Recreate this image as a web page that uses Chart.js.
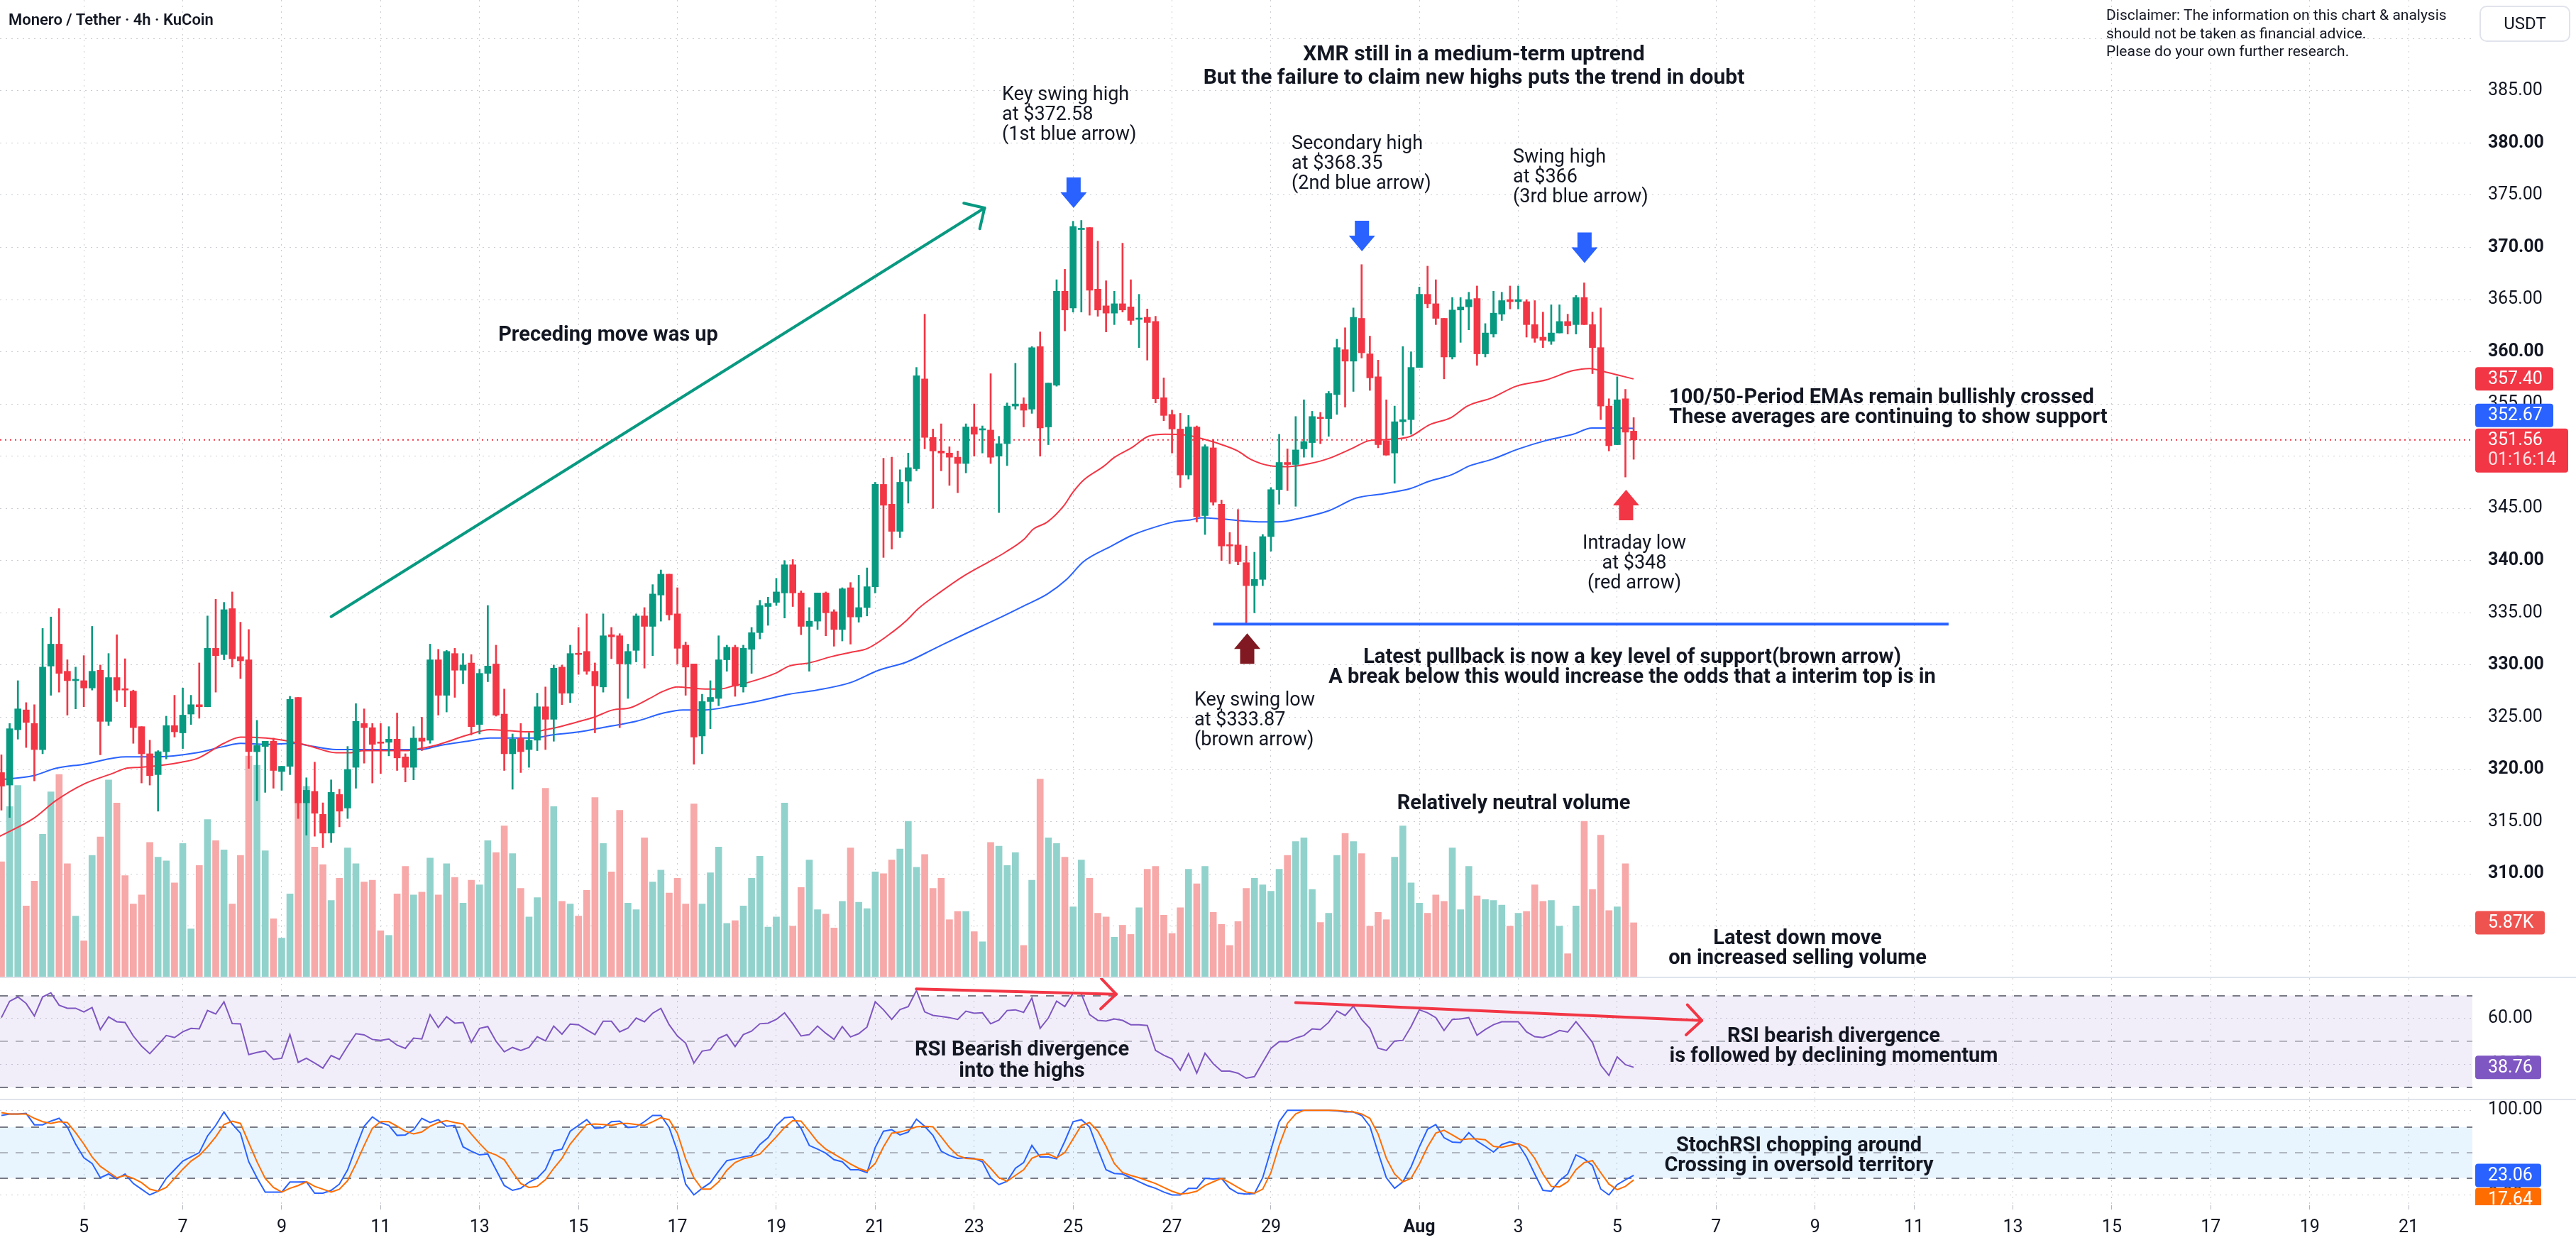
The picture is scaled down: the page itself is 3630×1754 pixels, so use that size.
<!DOCTYPE html>
<html>
<head>
<meta charset="utf-8">
<title>Monero / Tether 4h</title>
<script src="https://cdn.jsdelivr.net/npm/chart.js@4.4.1/dist/chart.umd.min.js"></script>
<style>
  html, body { margin: 0; padding: 0; background: #ffffff; }
  #page { position: relative; width: 3630px; height: 1754px; overflow: hidden; font-family: Roboto, "Noto Sans", sans-serif; color: #131722; }
  canvas { position: absolute; left: 0; }
  .sep { position: absolute; left: 0; width: 3630px; height: 2px; background: #e0e3eb; }
  .t { position: absolute; white-space: nowrap; font-size: 27px; line-height: 28px; }
  .b { font-weight: 700; font-size: 29px; }
  .mid { text-align: center; transform: translate(-50%, -50%); }
  .lft { transform: translateY(-50%); }
  #usdt { position: absolute; left: 3494px; top: 8px; width: 124px; height: 47px; border: 2px solid #e0e3eb; border-radius: 10px; font-size: 24px; line-height: 47px; text-align: center; }
</style>
</head>
<body>
<div id="page">
  <canvas id="priceChart" width="3630" height="1376" style="top:0"></canvas>
  <div class="sep" style="top:1376px"></div>
  <canvas id="rsiChart" width="3630" height="170" style="top:1378px"></canvas>
  <div class="sep" style="top:1548px"></div>
  <canvas id="stochChart" width="3630" height="204" style="top:1550px"></canvas>

  <div class="t lft" style="left:12px;top:28px;font-size:22px;font-weight:600">Monero / Tether · 4h · KuCoin</div>
  <div class="t lft" style="left:2968px;top:47px;font-size:21px;line-height:25.5px">Disclaimer: The information on this chart &amp; analysis<br>should not be taken as financial advice.<br>Please do your own further research.</div>
  <div id="usdt">USDT</div>

  <div class="t b mid" style="left:2077px;top:91px;font-size:30px;line-height:33px">XMR still in a medium-term uptrend<br>But the failure to claim new highs puts the trend in doubt</div>
  <div class="t lft" style="left:1412px;top:160px">Key swing high<br>at $372.58<br>(1st blue arrow)</div>
  <div class="t lft" style="left:1820px;top:229px">Secondary high<br>at $368.35<br>(2nd blue arrow)</div>
  <div class="t lft" style="left:2132px;top:248px">Swing high<br>at $366<br>(3rd blue arrow)</div>
  <div class="t b mid" style="left:857px;top:470px">Preceding move was up</div>
  <div class="t b lft" style="left:2352px;top:572px">100/50-Period EMAs remain bullishly crossed<br>These averages are continuing to show support</div>
  <div class="t mid" style="left:2303px;top:792px">Intraday low<br>at $348<br>(red arrow)</div>
  <div class="t b mid" style="left:2300px;top:938px">Latest pullback is now a key level of support(brown arrow)<br>A break below this would increase the odds that a interim top is in</div>
  <div class="t lft" style="left:1683px;top:1013px">Key swing low<br>at $333.87<br>(brown arrow)</div>
  <div class="t b mid" style="left:2133px;top:1130px">Relatively neutral volume</div>
  <div class="t b mid" style="left:2533px;top:1334px">Latest down move<br>on increased selling volume</div>
  <div class="t b mid" style="left:1440px;top:1492px;line-height:30px">RSI Bearish divergence<br>into the highs</div>
  <div class="t b mid" style="left:2584px;top:1472px">RSI bearish divergence<br>is followed by declining momentum</div>
  <div class="t b mid" style="left:2535px;top:1626px">StochRSI chopping around<br>Crossing in oversold territory</div>
</div>

<script>
// 4h candles, the first one opens Jul 3 08:00. x axis unit = day of July (Aug 1 = 32)
const firstBar = 3 + 8 / 24;

const opens = [
  319.7, 318.5, 323.8, 325.7, 324.4, 321.9, 329.9, 332.0, 329.4, 328.5, 328.5, 327.8,
  329.5, 324.6, 328.8, 327.7, 327.5, 324.1, 321.5, 319.5, 321.7, 324.2, 323.5, 325.3,
  326.2, 326.0, 331.6, 331.0, 335.4, 330.8, 330.5, 321.7, 322.2, 322.7, 319.8, 320.3,
  326.9, 316.8, 317.9, 315.7, 313.9, 317.6, 316.3, 320.2, 324.4, 324.0, 322.6, 322.6,
  322.9, 321.2, 320.2, 323.0, 322.8, 330.5, 327.1, 331.1, 329.5, 330.2, 324.3, 329.2,
  330.1, 325.3, 321.5, 323.0, 321.9, 322.8, 326.0, 324.8, 329.8, 327.3, 331.1, 331.3,
  329.4, 327.9, 332.9, 332.8, 330.1, 331.4, 334.7, 333.7, 336.7, 338.7, 334.9, 331.9,
  330.1, 323.2, 326.5, 326.8, 330.5, 331.7, 327.9, 331.5, 333.1, 335.6, 336.0, 336.9,
  339.6, 336.9, 333.7, 334.2, 336.9, 335.1, 333.4, 337.4, 334.6, 335.5, 337.5, 347.3,
  345.4, 342.8, 347.6, 348.8, 357.4, 351.8, 350.5, 350.3, 349.9, 349.3, 352.8, 352.5,
  352.5, 350.0, 351.2, 354.8, 355.0, 354.5, 360.5, 352.8, 356.8, 365.8, 364.2, 371.7,
  371.9, 366.0, 364.4, 363.7, 364.6, 364.3, 363.1, 363.3, 362.9, 355.6, 354.0, 352.6,
  348.2, 352.8, 344.3, 350.8, 345.4, 341.5, 341.5, 339.8, 337.6, 338.2, 342.3, 346.8,
  349.4, 349.2, 350.7, 351.3, 353.7, 353.6, 355.9, 360.2, 359.1, 363.2, 359.8, 357.6,
  351.5, 350.3, 353.3, 353.5, 358.5, 365.5, 364.6, 363.2, 359.5, 364.0, 364.3, 365.1,
  359.8, 361.7, 363.6, 365.0, 364.8, 364.8, 362.6, 361.4, 361.0, 361.8, 362.9, 362.6,
  365.2, 362.6, 360.4, 354.8, 351.1, 355.5, 352.4
];
const highs = [
  321.4, 324.4, 328.5, 326.4, 326.2, 333.5, 334.6, 335.4, 330.5, 329.8, 330.9, 333.7,
  330.0, 331.1, 332.9, 330.6, 327.6, 324.1, 322.8, 321.8, 325.1, 327.1, 327.8, 327.1,
  330.2, 334.7, 336.3, 336.0, 337.0, 334.1, 333.4, 324.7, 322.7, 323.0, 320.3, 327.0,
  326.9, 319.2, 320.7, 316.8, 319.0, 318.1, 322.2, 326.3, 325.8, 324.4, 324.4, 324.1,
  325.4, 321.5, 324.1, 325.0, 332.0, 331.5, 331.4, 331.6, 331.1, 331.0, 329.6, 335.7,
  331.9, 327.7, 323.4, 324.4, 323.5, 327.3, 327.9, 330.0, 330.0, 331.9, 333.6, 334.9,
  330.2, 334.9, 333.6, 333.0, 332.0, 334.9, 335.5, 337.7, 339.1, 338.7, 337.4, 332.2,
  330.1, 327.2, 328.5, 332.8, 331.9, 331.9, 331.9, 333.6, 336.2, 336.5, 338.3, 340.0,
  340.1, 337.1, 335.5, 336.9, 337.0, 335.3, 337.4, 337.9, 338.6, 339.3, 347.5, 349.8,
  349.9, 348.7, 350.3, 358.5, 363.6, 352.6, 353.1, 350.9, 350.5, 353.1, 355.0, 352.9,
  357.9, 351.9, 355.1, 358.9, 355.6, 360.5, 361.9, 357.0, 366.9, 367.9, 372.5, 372.58,
  371.9, 370.6, 366.8, 365.8, 370.4, 366.9, 365.5, 364.1, 363.4, 357.5, 354.4, 354.1,
  353.9, 352.9, 351.1, 351.6, 345.8, 342.7, 344.9, 341.4, 340.8, 342.5, 347.0, 352.1,
  350.7, 353.8, 355.4, 354.3, 354.2, 356.2, 361.2, 362.3, 364.2, 368.35, 361.5, 359.2,
  355.4, 354.8, 360.5, 360.0, 366.2, 368.2, 366.9, 363.2, 365.2, 365.2, 365.7, 366.3,
  362.7, 365.8, 365.7, 366.3, 366.3, 365.0, 364.9, 363.8, 364.5, 364.5, 363.6, 365.4,
  366.6, 363.8, 364.2, 355.5, 357.6, 356.4, 353.7
];
const lows = [
  316.1, 315.4, 322.9, 322.1, 318.9, 321.5, 327.1, 327.4, 325.2, 325.8, 326.0, 327.6,
  321.4, 324.2, 326.5, 326.0, 322.5, 318.7, 318.5, 316.0, 321.0, 323.1, 322.0, 324.3,
  324.9, 326.0, 327.4, 330.5, 329.8, 328.7, 320.1, 317.0, 317.8, 318.2, 318.0, 319.5,
  315.3, 313.7, 313.6, 312.5, 313.0, 314.5, 315.3, 318.2, 320.6, 318.7, 319.6, 321.3,
  319.9, 318.8, 319.0, 321.8, 322.5, 325.2, 325.5, 326.9, 328.2, 323.3, 323.4, 328.4,
  325.1, 319.9, 318.1, 319.7, 320.2, 321.8, 321.9, 322.7, 326.2, 326.4, 329.1, 329.1,
  323.5, 327.4, 330.6, 324.0, 326.8, 330.3, 329.7, 330.9, 334.2, 334.3, 330.1, 327.1,
  320.5, 321.5, 323.9, 326.1, 329.4, 327.0, 327.4, 329.2, 332.5, 333.8, 335.7, 334.5,
  335.6, 332.9, 329.4, 333.4, 332.8, 331.8, 332.3, 332.0, 334.1, 334.7, 336.9, 340.3,
  341.1, 342.2, 345.5, 348.6, 350.7, 345.0, 348.6, 347.2, 346.5, 348.4, 350.0, 350.3,
  349.3, 344.6, 349.1, 354.5, 352.8, 354.1, 350.0, 351.1, 356.7, 362.0, 363.8, 363.8,
  363.5, 363.4, 361.9, 362.6, 363.8, 362.6, 360.4, 359.2, 355.1, 353.4, 350.3, 347.0,
  347.8, 343.7, 342.5, 345.3, 340.0, 339.7, 339.6, 333.87, 335.0, 337.6, 340.9, 345.4,
  346.7, 345.2, 349.9, 349.9, 351.2, 351.9, 354.0, 354.7, 356.2, 359.4, 356.3, 350.8,
  350.1, 347.4, 352.0, 352.1, 358.5, 364.2, 362.6, 357.4, 359.3, 360.9, 362.1, 358.7,
  359.5, 361.4, 363.0, 364.1, 364.1, 361.4, 360.9, 360.4, 360.7, 361.8, 361.7, 361.7,
  362.6, 357.9, 353.5, 350.5, 351.1, 348.0, 349.7
];
const closes = [
  318.4, 323.9, 325.8, 324.5, 321.9, 329.8, 332.0, 329.2, 328.5, 328.6, 327.8, 329.4,
  324.6, 328.8, 327.6, 327.6, 324.0, 321.5, 319.4, 321.7, 324.2, 323.6, 325.2, 326.2,
  326.0, 331.6, 330.9, 335.3, 330.6, 330.4, 321.7, 322.3, 322.7, 319.9, 320.3, 326.7,
  316.8, 318.0, 315.8, 313.9, 317.8, 316.0, 320.0, 324.6, 324.0, 322.4, 322.5, 322.9,
  321.1, 320.2, 323.0, 322.7, 330.5, 327.1, 331.3, 329.5, 330.0, 324.1, 329.2, 329.9,
  325.2, 321.5, 322.9, 321.7, 322.8, 326.0, 324.8, 329.7, 327.3, 331.1, 331.0, 329.4,
  328.0, 332.8, 332.7, 330.1, 331.3, 334.7, 333.7, 336.8, 338.7, 334.8, 331.6, 329.8,
  323.1, 326.5, 326.9, 330.5, 331.7, 328.0, 331.6, 333.1, 335.7, 335.9, 337.0, 339.6,
  336.9, 333.7, 334.2, 336.9, 335.0, 333.4, 337.3, 334.6, 335.5, 337.5, 347.3, 345.3,
  342.8, 347.5, 348.9, 357.7, 351.8, 350.5, 350.3, 349.9, 349.3, 352.8, 352.1, 352.6,
  349.9, 351.2, 354.8, 355.0, 354.4, 360.4, 352.7, 357.0, 365.8, 364.0, 372.0, 371.8,
  365.9, 364.0, 363.7, 364.6, 364.0, 363.0, 363.2, 362.8, 355.5, 353.9, 352.6, 348.2,
  352.8, 344.2, 350.9, 345.6, 341.4, 341.4, 339.9, 337.6, 338.2, 342.3, 346.8, 349.4,
  349.2, 350.6, 351.4, 353.8, 353.6, 356.0, 360.4, 359.1, 363.3, 359.9, 357.5, 351.1,
  350.1, 353.3, 353.5, 358.5, 365.5, 364.6, 363.2, 359.5, 364.0, 364.3, 365.0, 359.8,
  361.8, 363.7, 364.9, 364.8, 365.0, 362.6, 361.3, 361.1, 361.8, 362.9, 362.5, 365.2,
  362.6, 360.4, 354.8, 351.0, 355.4, 352.3, 351.56
];
// volume in thousands
const volumes = [
  12.5, 18.5, 20.8, 7.7, 10.4, 15.5, 20.1, 22.0, 12.3, 6.6, 3.9, 13.2,
  15.2, 21.4, 18.9, 11.0, 7.9, 8.9, 14.6, 13.0, 12.6, 10.2, 14.5, 5.2,
  12.1, 17.1, 14.8, 13.8, 7.9, 13.2, 24.0, 23.0, 13.7, 6.3, 4.2, 9.0,
  22.5, 20.7, 14.1, 12.2, 8.3, 10.7, 14.0, 12.3, 10.3, 10.5, 5.0, 4.5,
  9.0, 12.0, 8.9, 9.2, 12.9, 8.9, 12.3, 10.8, 8.0, 10.5, 10.0, 14.8,
  13.5, 16.4, 13.4, 9.6, 6.5, 8.6, 20.5, 18.5, 8.2, 7.9, 6.6, 9.4,
  19.5, 14.5, 11.4, 18.1, 8.0, 7.3, 15.1, 10.3, 11.6, 9.1, 10.7, 7.9,
  18.8, 7.9, 11.3, 14.1, 5.8, 6.1, 7.7, 10.7, 13.1, 5.4, 6.5, 18.9,
  5.5, 9.7, 12.7, 7.3, 6.8, 5.3, 8.2, 14.0, 8.1, 7.4, 11.4, 11.2,
  12.7, 13.9, 16.9, 11.9, 13.3, 9.6, 10.7, 6.2, 7.1, 7.1, 4.9, 3.8,
  14.6, 14.2, 12.1, 13.5, 3.4, 10.5, 21.5, 15.1, 14.5, 13.0, 7.6, 12.7,
  10.7, 6.9, 6.5, 4.3, 5.6, 4.6, 7.5, 11.7, 12.0, 6.7, 4.7, 7.5,
  11.7, 10.1, 12.0, 7.0, 5.7, 3.4, 6.0, 9.6, 10.7, 10.0, 9.3, 11.7,
  13.2, 14.7, 15.1, 9.5, 5.9, 6.9, 13.2, 15.6, 14.7, 13.4, 5.5, 7.0,
  6.2, 13.0, 16.4, 10.2, 8.0, 6.9, 8.9, 8.2, 14.0, 7.3, 12.0, 8.8,
  8.4, 8.3, 7.8, 5.5, 6.9, 7.1, 10.0, 8.2, 8.3, 5.5, 2.5, 7.7,
  16.9, 9.5, 15.4, 7.2, 7.6, 12.3, 5.87
];
const rsi = [
  60.4, 67.5, 69.4, 66.6, 61.1, 69.4, 71.2, 65.8, 64.5, 64.5, 62.9, 64.8,
  55.2, 60.7, 58.6, 58.3, 52.4, 48.0, 44.7, 48.6, 52.6, 51.7, 54.2, 55.7,
  55.5, 63.5, 62.0, 67.3, 57.8, 57.7, 44.3, 45.2, 45.9, 42.2, 42.7, 53.0,
  40.9, 42.7, 40.6, 38.4, 43.9, 42.2, 48.0, 53.4, 52.9, 50.9, 50.5, 51.1,
  48.4, 47.0, 51.5, 51.1, 61.7, 56.1, 60.8, 58.0, 58.3, 49.6, 55.7, 56.5,
  50.1, 45.5, 47.4, 46.1, 47.4, 52.1, 50.3, 56.7, 53.2, 57.6, 57.3, 55.1,
  53.0, 58.8, 58.8, 54.2, 55.8, 60.2, 58.6, 62.3, 64.4, 57.3, 52.4, 49.3,
  40.6, 45.8, 46.4, 51.4, 53.0, 47.8, 53.0, 54.5, 57.7, 58.0, 59.6, 62.5,
  57.7, 52.4, 53.0, 56.7, 53.6, 50.9, 56.5, 52.0, 53.4, 56.3, 67.3, 63.8,
  59.6, 63.9, 65.2, 72.2, 62.9, 61.4, 60.9, 60.4, 59.6, 63.2, 62.3, 62.5,
  57.7, 59.3, 63.5, 63.8, 62.7, 68.9, 55.7, 60.2, 67.6, 65.2, 71.0, 70.7,
  61.7, 59.2, 58.9, 59.8, 59.2, 57.3, 57.3, 57.0, 46.1, 44.0, 42.4, 37.5,
  44.7, 36.2, 44.9, 40.3, 37.1, 37.1, 36.2, 34.0, 34.7, 40.9, 47.0, 49.9,
  49.9, 51.5, 52.6, 55.5, 55.2, 58.3, 63.3, 61.3, 65.4, 59.6, 55.7, 47.1,
  46.1, 50.2, 50.5, 56.5, 63.8, 62.5, 60.4, 54.8, 59.6, 59.8, 60.4, 52.7,
  55.2, 57.3, 58.6, 58.6, 58.6, 54.2, 52.1, 51.7, 53.0, 54.8, 54.1, 58.6,
  54.2, 49.6, 39.7, 35.2, 43.3, 39.9, 38.76
];
const stochK = [
  93.9, 95.6, 95.6, 96.3, 82.8, 82.8, 87.2, 90.5, 80.4, 60.1, 43.9, 37.2,
  20.3, 24.7, 18.9, 24.7, 13.5, 6.8, 0, 4.4, 19.6, 29.7, 39.9, 44.9,
  50.0, 69.6, 82.1, 98.0, 83.8, 73.0, 39.2, 20.3, 3.4, 3.4, 3.4, 15.2,
  15.2, 15.5, 2.0, 2.0, 5.4, 12.8, 29.7, 56.1, 81.1, 92.2, 85.5, 82.1,
  70.3, 70.9, 77.0, 90.5, 85.5, 88.9, 81.1, 82.1, 56.8, 51.7, 47.3, 48.3,
  29.7, 11.1, 5.4, 7.8, 15.0, 20.0, 30.0, 52.0, 54.1, 75.3, 82.1, 88.9,
  78.7, 79.4, 86.5, 87.2, 79.7, 80.4, 86.5, 93.9, 93.9, 79.7, 51.7, 12.8,
  0, 7.8, 14.5, 28.0, 40.5, 42.6, 44.9, 46.6, 59.5, 67.6, 82.1, 91.2,
  92.2, 78.7, 58.4, 54.1, 49.3, 41.6, 39.2, 29.7, 29.7, 26.4, 56.1, 75.3,
  77.0, 70.9, 74.3, 89.5, 81.1, 70.3, 51.7, 46.6, 43.2, 43.9, 43.2, 39.2,
  20.3, 12.2, 16.2, 31.4, 38.2, 58.4, 44.9, 44.9, 42.6, 63.5, 86.5, 88.9,
  80.4, 54.0, 29.7, 25.3, 24.7, 20.3, 15.5, 11.1, 7.8, 3.4, 0, 0,
  7.8, 7.8, 19.6, 18.9, 19.6, 7.8, 2.0, 1.0, 1.7, 20.3, 53.4, 86.5,
  100, 100, 100, 100, 100, 100, 99.3, 98.0, 98.0, 93.9, 81.1, 50.0,
  20.3, 7.8, 15.5, 33.1, 56.8, 77.7, 83.1, 67.6, 62.5, 61.8, 73.6, 63.5,
  57.4, 50.7, 59.5, 62.8, 60.1, 44.9, 24.7, 5.4, 4.4, 16.9, 24.7, 47.3,
  42.6, 34.8, 7.1, 0, 12.2, 17.9, 23.06
];
const stochD = [
  97.3, 95.6, 95.6, 95.6, 90.5, 86.5, 84.5, 86.5, 85.5, 73.6, 60.1, 44.9,
  33.8, 27.0, 20.3, 23.0, 19.6, 14.5, 6.8, 4.4, 8.8, 19.6, 30.4, 39.9,
  46.6, 56.8, 68.6, 83.1, 87.2, 84.5, 61.8, 39.2, 19.6, 8.8, 3.4, 7.8,
  11.1, 15.5, 10.1, 6.8, 3.4, 6.8, 16.9, 36.5, 58.4, 78.7, 86.5, 86.5,
  81.1, 75.3, 72.0, 74.3, 81.1, 85.5, 87.8, 85.5, 83.8, 72.0, 60.8, 50.7,
  47.3, 41.6, 27.0, 13.5, 8.8, 10.1, 17.9, 31.4, 43.2, 60.1, 72.0, 83.1,
  83.8, 83.1, 82.1, 84.5, 84.5, 83.1, 82.1, 86.5, 91.2, 88.9, 73.0, 42.6,
  20.3, 6.8, 6.8, 15.5, 29.1, 38.2, 42.6, 44.9, 48.3, 58.4, 68.6, 79.7,
  87.8, 87.2, 75.3, 62.8, 54.1, 48.3, 42.6, 36.5, 31.4, 28.0, 37.2, 56.8,
  73.0, 74.3, 77.0, 80.4, 81.1, 80.4, 68.6, 56.1, 46.6, 43.2, 42.6, 41.6,
  31.4, 20.3, 16.2, 23.0, 29.7, 43.2, 47.3, 48.3, 43.9, 50.0, 66.2, 82.1,
  85.5, 75.3, 57.6, 37.2, 26.4, 23.0, 20.3, 16.9, 13.5, 8.8, 4.4, 1.0,
  2.0, 4.4, 11.1, 15.5, 19.6, 14.5, 8.8, 3.4, 2.0, 6.8, 26.4, 58.4,
  84.5, 95.6, 100, 100, 100, 100, 99.7, 99.0, 98.0, 95.6, 90.5, 72.0,
  43.2, 24.7, 15.5, 19.6, 36.5, 56.8, 73.0, 76.4, 70.9, 65.2, 66.2, 66.2,
  65.2, 57.4, 56.1, 58.4, 60.8, 56.1, 43.2, 24.7, 10.1, 9.5, 15.5, 29.7,
  38.2, 40.5, 26.4, 12.8, 6.1, 10.1, 17.64
];
// EMA lines as [day, price]
const ema50Pts = [
  [3.30, 313.6], [3.98, 315.3], [4.43, 317.0], [5.00, 318.6], [5.57, 319.6], [5.85, 320.1], [6.13, 320.2], [6.59, 320.4],
  [6.98, 320.7], [7.32, 321.1], [7.83, 322.5], [8.17, 323.1], [8.68, 323.0], [9.02, 322.8], [9.53, 322.3], [10.10, 321.6],
  [10.38, 321.6], [10.67, 321.8], [11.52, 321.8], [11.80, 322.0], [12.18, 322.4], [12.76, 323.3], [13.21, 323.8], [13.61, 323.7],
  [14.06, 323.6], [14.34, 323.8], [14.63, 324.1], [15.02, 324.6], [15.31, 325.0], [15.70, 325.7], [16.04, 325.9], [16.44, 326.8],
  [16.72, 327.5], [17.00, 327.9], [17.28, 327.8], [17.56, 327.7], [17.85, 327.7], [18.13, 328.0], [18.41, 328.3], [18.98, 329.2],
  [19.26, 329.9], [19.66, 330.2], [20.11, 330.8], [20.49, 331.2], [20.85, 331.6], [21.36, 333.2], [21.64, 334.3], [21.87, 335.4],
  [22.32, 337.0], [22.78, 338.5], [23.34, 340.0], [23.63, 340.8], [24.02, 342.1], [24.19, 343.0], [24.48, 343.7], [24.82, 345.3],
  [24.99, 346.5], [25.21, 347.7], [25.61, 349.0], [25.84, 349.9], [26.18, 350.8], [26.52, 351.9], [26.86, 352.1], [27.31, 352.0],
  [27.59, 351.7], [27.88, 351.3], [28.33, 350.5], [28.59, 349.7], [28.97, 349.1], [29.36, 349.0], [29.79, 349.3], [30.18, 349.8],
  [30.62, 350.7], [31.00, 351.5], [31.33, 351.6], [31.82, 351.9], [32.20, 353.0], [32.64, 353.7], [32.97, 354.8], [33.47, 355.6],
  [33.96, 356.7], [34.56, 357.3], [35.11, 358.2], [35.44, 358.4], [35.82, 358.0], [36.33, 357.40]
];
const ema100Pts = [
  [3.30, 319.0], [3.98, 319.4], [4.43, 320.1], [5.00, 320.5], [5.85, 321.2], [6.42, 321.2], [7.28, 321.6], [7.83, 322.2],
  [8.17, 322.5], [8.68, 322.4], [9.25, 322.5], [9.53, 322.3], [10.10, 321.9], [10.67, 321.9], [11.52, 321.9], [11.80, 321.9],
  [12.20, 322.3], [12.76, 322.7], [13.21, 323.0], [14.06, 323.0], [14.46, 323.3], [15.02, 323.6], [15.59, 324.1], [16.16, 324.6],
  [16.72, 325.4], [17.11, 325.7], [17.56, 325.7], [18.13, 326.1], [18.69, 326.6], [19.26, 327.2], [19.82, 327.6], [20.49, 328.3],
  [21.07, 329.5], [21.64, 330.3], [22.21, 331.6], [22.78, 332.9], [23.46, 334.4], [24.02, 335.7], [24.48, 336.8], [24.87, 338.2],
  [25.21, 339.9], [25.78, 341.4], [26.18, 342.4], [26.52, 343.0], [27.03, 343.7], [27.37, 343.9], [27.59, 344.1], [27.99, 344.0],
  [28.45, 343.8], [28.81, 343.7], [29.14, 343.7], [29.63, 344.1], [30.18, 344.8], [30.73, 346.0], [31.27, 346.4], [31.82, 346.9],
  [32.20, 347.6], [32.64, 348.2], [33.03, 349.1], [33.47, 349.7], [34.01, 350.7], [34.56, 351.5], [35.11, 352.1], [35.49, 352.7],
  [35.93, 352.7], [36.33, 352.67]
];

const dayTicks = [5, 7, 9, 11, 13, 15, 17, 19, 21, 23, 25, 27, 29, 32, 34, 36, 38, 40, 42, 44, 46, 48, 50, 52];
const dayLabels = ['5', '7', '9', '11', '13', '15', '17', '19', '21', '23', '25', '27', '29', 'Aug', '3', '5', '7', '9', '11', '13', '15', '17', '19', '21'];
const priceTicks = [305, 310, 315, 320, 325, 330, 335, 340, 345, 350, 355, 360, 365, 370, 375, 380, 385, 390];
const rsiTicks = [40, 60];
const stochTicks = [0, 100];
const countdown = '01:16:14';

// drawing marks, in chart units (day, price / rsi)
const trendArrow = [[10.0, 334.63], [23.21, 373.77]];
const highArrows = [[25.01, 373.77], [30.84, 369.63], [35.34, 368.5]];
const lowArrow = [36.18, 346.78];
const swingLowArrow = [28.52, 333.03];
const supportLine = { from: 27.83, to: 42.70, price: 333.92 };
const rsiArrows = [[[21.83, 72.9], [25.87, 70.6]], [[29.5, 66.9], [37.71, 59.15]]];

const UP = '#089981', DOWN = '#f23645', BLUE = '#2962ff';
const xMin = 3.305, xMax = 53.29;
const last = closes.length - 1;
const barX = closes.map((c, i) => firstBar + i / 6);
const isUp = closes.map((c, i) => c >= opens[i]);

Chart.defaults.font.family = 'Roboto';
Chart.defaults.color = '#131722';

const common = {
  responsive: false, animation: false, devicePixelRatio: 1, events: [],
  layout: { padding: 0 },
  plugins: { legend: { display: false }, tooltip: { enabled: false } }
};

function xAxis(showLabels) {
  return {
    type: 'linear', min: xMin, max: xMax, offset: false,
    afterBuildTicks: s => { s.ticks = dayTicks.map(v => ({ value: v })); },
    grid: { offset: false, color: '#c9ccd2', drawTicks: showLabels, tickLength: 6, tickColor: '#b2b5be', tickBorderDash: [] },
    border: { display: false, dash: [2, 6] },
    ticks: {
      display: showLabels, autoSkip: false, maxRotation: 0, padding: 11, color: '#131722',
      font: c => ({ size: 25, weight: c.tick && c.tick.value === 32 ? 'bold' : 'normal' }),
      callback: v => dayLabels[dayTicks.indexOf(v)]
    },
    afterFit: s => {
      s.height = showLabels ? 56 : 0;
      s.paddingLeft = 0; s.paddingRight = 0;
    }
  };
}

function rightAxis(min, max, ticks, fmt, bold) {
  return {
    position: 'right', min, max,
    afterBuildTicks: s => { s.ticks = ticks.map(v => ({ value: v })); },
    grid: { color: '#c9ccd2', drawTicks: false },
    border: { display: false, dash: [2, 6] },
    ticks: {
      padding: 22, color: '#131722', callback: fmt,
      font: c => ({ size: 25, weight: bold && c.tick && bold(c.tick.value) ? 'bold' : 'normal' })
    },
    // fixed axis width, and no label overhang padding so the pane uses its full height
    afterFit: s => {
      s.width = 146;
      s.paddingTop = 0; s.paddingBottom = 0;
    }
  };
}

function seg(ctx, x1, y1, x2, y2) {
  ctx.beginPath(); ctx.moveTo(x1, y1); ctx.lineTo(x2, y2); ctx.stroke();
}

function arrowLine(ctx, x1, y1, x2, y2, color, width) {
  const a = Math.atan2(y2 - y1, x2 - x1), L = 30;
  ctx.save();
  ctx.strokeStyle = color; ctx.lineWidth = width; ctx.lineCap = 'round';
  seg(ctx, x1, y1, x2, y2);
  [a + Math.PI * 0.75, a - Math.PI * 0.75].forEach(b => seg(ctx, x2, y2, x2 + L * Math.cos(b), y2 + L * Math.sin(b)));
  ctx.restore();
}

// block arrow, dir 1 = pointing down, -1 = pointing up
function blockArrow(ctx, x, tip, dir, color) {
  const head = 22, len = 43, hw = 18.5, sw = 10;
  ctx.save();
  ctx.fillStyle = color;
  ctx.beginPath();
  ctx.moveTo(x, tip);
  ctx.lineTo(x + hw, tip - dir * head); ctx.lineTo(x + sw, tip - dir * head); ctx.lineTo(x + sw, tip - dir * len);
  ctx.lineTo(x - sw, tip - dir * len); ctx.lineTo(x - sw, tip - dir * head); ctx.lineTo(x - hw, tip - dir * head);
  ctx.closePath(); ctx.fill();
  ctx.restore();
}

// value tag on the price scale
function tag(chart, yc, w, color, text) {
  const ctx = chart.ctx, x = chart.chartArea.right + 4, h = 33;
  ctx.fillStyle = color;
  ctx.beginPath(); ctx.roundRect(x, yc - h / 2, w, h, 4); ctx.fill();
  ctx.fillStyle = '#ffffff';
  ctx.font = '25px Roboto'; ctx.textAlign = 'left'; ctx.textBaseline = 'middle';
  ctx.fillText(text, chart.chartArea.right + 22, yc + 1);
}

function dashedLevel(chart, value, color) {
  const { ctx, chartArea: a, scales: { y } } = chart;
  const py = Math.round(y.getPixelForValue(value));
  ctx.save();
  ctx.strokeStyle = color; ctx.lineWidth = 2; ctx.setLineDash([11, 11]);
  seg(ctx, a.left, py, a.right, py);
  ctx.restore();
}

function band(chart, lo, hi, fill) {
  const { ctx, chartArea: a, scales: { y } } = chart;
  const top = y.getPixelForValue(hi), bot = y.getPixelForValue(lo);
  ctx.save(); ctx.fillStyle = fill; ctx.fillRect(a.left, top, a.right - a.left, bot - top); ctx.restore();
  dashedLevel(chart, hi, '#787b86');
  dashedLevel(chart, (lo + hi) / 2, 'rgba(120,123,134,0.5)');
  dashedLevel(chart, lo, '#787b86');
}

const pricePlugin = {
  id: 'priceMarks',
  beforeDatasetsDraw(chart) {
    const { ctx, chartArea: a, scales: { y } } = chart;
    const py = y.getPixelForValue(closes[last]);
    ctx.save();
    ctx.strokeStyle = DOWN; ctx.lineWidth = 2; ctx.setLineDash([2, 5]);
    seg(ctx, a.left, py, a.right, py);
    ctx.restore();
  },
  afterDatasetsDraw(chart) {
    const { ctx, scales: { x, y } } = chart;
    const px = p => x.getPixelForValue(p[0]), py = p => y.getPixelForValue(p[1]);
    arrowLine(ctx, px(trendArrow[0]), py(trendArrow[0]), px(trendArrow[1]), py(trendArrow[1]), UP, 4);
    highArrows.forEach(p => blockArrow(ctx, px(p), py(p), 1, BLUE));
    blockArrow(ctx, px(lowArrow), py(lowArrow), -1, DOWN);
    ctx.save();
    ctx.strokeStyle = BLUE; ctx.lineWidth = 4;
    const sy = y.getPixelForValue(supportLine.price);
    seg(ctx, x.getPixelForValue(supportLine.from), sy, x.getPixelForValue(supportLine.to), sy);
    ctx.restore();
    blockArrow(ctx, px(swingLowArrow), py(swingLowArrow), -1, '#801922');
  },
  afterDraw(chart) {
    const { ctx, chartArea: a, scales: { y, yv } } = chart;
    ctx.save();
    // moving averages and last price
    const e50 = ema50Pts[ema50Pts.length - 1][1];
    tag(chart, y.getPixelForValue(e50), 110, DOWN, e50.toFixed(2));
    const lastY = y.getPixelForValue(closes[last]);
    const boxTop = lastY - 16;
    const e100 = ema100Pts[ema100Pts.length - 1][1];
    tag(chart, Math.min(y.getPixelForValue(e100), boxTop - 2 - 16.5), 110, BLUE, e100.toFixed(2));
    ctx.fillStyle = DOWN;
    ctx.beginPath(); ctx.roundRect(a.right + 4, boxTop, 131, 62, 4); ctx.fill();
    ctx.font = '25px Roboto'; ctx.textAlign = 'left'; ctx.textBaseline = 'middle';
    ctx.fillStyle = '#ffffff';
    ctx.fillText(closes[last].toFixed(2), a.right + 22, lastY + 1);
    ctx.fillStyle = 'rgba(255,255,255,0.85)';
    ctx.fillText(countdown, a.right + 22, lastY + 29);
    tag(chart, yv.getPixelForValue(volumes[last]), 98, '#ef5350', volumes[last].toFixed(2) + 'K');
    ctx.restore();
  }
};

const rsiPlugin = {
  id: 'rsiMarks',
  beforeDatasetsDraw(chart) { band(chart, 30, 70, 'rgba(126,87,194,0.1)'); },
  afterDatasetsDraw(chart) {
    const { ctx, scales: { x, y } } = chart;
    rsiArrows.forEach(([p, q]) => arrowLine(ctx, x.getPixelForValue(p[0]), y.getPixelForValue(p[1]),
      x.getPixelForValue(q[0]), y.getPixelForValue(q[1]), DOWN, 4));
  },
  afterDraw(chart) {
    chart.ctx.save();
    tag(chart, chart.scales.y.getPixelForValue(rsi[last]), 93, '#7e57c2', rsi[last].toFixed(2));
    chart.ctx.restore();
  }
};

const stochPlugin = {
  id: 'stochMarks',
  beforeDatasetsDraw(chart) { band(chart, 20, 80, 'rgba(33,150,243,0.1)'); },
  afterDraw(chart) {
    const { ctx, chartArea: a, scales: { y } } = chart;
    ctx.save();
    ctx.beginPath(); ctx.rect(a.right, 0, chart.width - a.right, a.bottom); ctx.clip();
    const ky = y.getPixelForValue(stochK[last]);
    tag(chart, ky, 93, BLUE, stochK[last].toFixed(2));
    tag(chart, Math.max(y.getPixelForValue(stochD[last]), ky + 34), 93, '#ff6d00', stochD[last].toFixed(2));
    ctx.restore();
  }
};

new Chart(document.getElementById('priceChart'), {
  type: 'bar',
  data: {
    datasets: [
      { data: barX.map((x, i) => ({ x, y: [opens[i], closes[i]] })), backgroundColor: isUp.map(u => u ? UP : DOWN),
        barThickness: 9, minBarLength: 2, grouped: false, order: 1 },
      { data: barX.map((x, i) => ({ x, y: [lows[i], highs[i]] })), backgroundColor: isUp.map(u => u ? UP : DOWN),
        barThickness: 2, grouped: false, order: 2 },
      { type: 'line', data: ema50Pts.map(p => ({ x: p[0], y: p[1] })), borderColor: DOWN, borderWidth: 2,
        pointRadius: 0, cubicInterpolationMode: 'monotone', order: 3 },
      { type: 'line', data: ema100Pts.map(p => ({ x: p[0], y: p[1] })), borderColor: BLUE, borderWidth: 2,
        pointRadius: 0, cubicInterpolationMode: 'monotone', order: 4 },
      { data: barX.map((x, i) => ({ x, y: volumes[i] })), yAxisID: 'yv', backgroundColor: isUp.map(u => u ? '#92d2cc' : '#f7a8a8'),
        barThickness: 9, grouped: false, order: 10 }
    ]
  },
  options: {
    ...common,
    scales: {
      x: xAxis(false),
      y: rightAxis(300.15, 393.69, priceTicks, v => v > 386 ? '' : v.toFixed(2), v => v % 10 === 0),
      yv: { display: false, min: 0, max: 106.25 }
    }
  },
  plugins: [pricePlugin]
});

new Chart(document.getElementById('rsiChart'), {
  type: 'line',
  data: {
    datasets: [{ data: barX.map((x, i) => ({ x, y: rsi[i] })), borderColor: '#7e57c2', borderWidth: 2, pointRadius: 0 }]
  },
  options: { ...common, scales: { x: xAxis(false), y: rightAxis(25.05, 77.6, rsiTicks, v => v.toFixed(2)) } },
  plugins: [rsiPlugin]
});

new Chart(document.getElementById('stochChart'), {
  type: 'line',
  data: {
    datasets: [
      { data: barX.map((x, i) => ({ x, y: stochK[i] })), borderColor: BLUE, borderWidth: 2, pointRadius: 0, order: 2 },
      { data: barX.map((x, i) => ({ x, y: stochD[i] })), borderColor: '#ff6d00', borderWidth: 2, pointRadius: 0, order: 1 }
    ]
  },
  options: { ...common, scales: { x: xAxis(true), y: rightAxis(-12.2, 111.9, stochTicks, v => v.toFixed(2)) } },
  plugins: [stochPlugin]
});
</script>
</body>
</html>
